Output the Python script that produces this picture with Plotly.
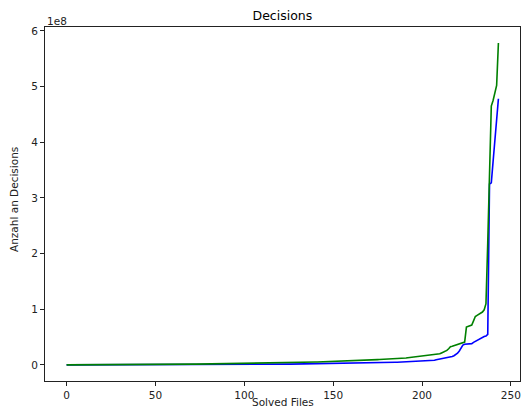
import plotly.graph_objects as go

# Decisions per solved file, in millions (sorted ascending), index = solved file number
green_millions = [
    0.00, 0.00, 0.01, 0.01, 0.02, 0.02, 0.03, 0.04, 0.05, 0.05,
    0.06, 0.07, 0.08, 0.09, 0.10, 0.11, 0.12, 0.13, 0.14, 0.15,
    0.16, 0.17, 0.19, 0.20, 0.21, 0.23, 0.24, 0.26, 0.27, 0.29,
    0.30, 0.31, 0.33, 0.34, 0.36, 0.37, 0.39, 0.41, 0.42, 0.44,
    0.46, 0.48, 0.50, 0.52, 0.54, 0.56, 0.58, 0.60, 0.62, 0.64,
    0.66, 0.69, 0.71, 0.74, 0.76, 0.79, 0.82, 0.85, 0.88, 0.91,
    0.94, 0.97, 1.00, 1.04, 1.07, 1.10, 1.13, 1.16, 1.20, 1.23,
    1.26, 1.30, 1.33, 1.37, 1.40, 1.44, 1.47, 1.51, 1.55, 1.58,
    1.62, 1.66, 1.70, 1.74, 1.78, 1.82, 1.86, 1.90, 1.95, 1.99,
    2.03, 2.08, 2.12, 2.17, 2.21, 2.26, 2.31, 2.35, 2.40, 2.45,
    2.50, 2.55, 2.60, 2.65, 2.71, 2.76, 2.81, 2.87, 2.92, 2.98,
    3.03, 3.09, 3.15, 3.21, 3.27, 3.33, 3.39, 3.45, 3.51, 3.58,
    3.64, 3.70, 3.77, 3.84, 3.90, 3.97, 4.04, 4.11, 4.18, 4.25,
    4.32, 4.40, 4.47, 4.55, 4.62, 4.70, 4.78, 4.86, 4.94, 5.02,
    5.10, 5.18, 5.27, 5.35, 5.44, 5.53, 5.62, 5.71, 5.80, 5.90,
    5.99, 6.09, 6.19, 6.29, 6.39, 6.49, 6.60, 6.71, 6.82, 6.93,
    7.04, 7.16, 7.28, 7.40, 7.52, 7.65, 7.78, 7.91, 8.05, 8.19,
    8.30, 8.40, 8.50, 8.70, 9.10, 9.50, 9.70, 9.80, 9.90, 10.0,
    10.1, 10.2, 10.3, 10.4, 10.5, 10.6, 10.7, 10.9, 11.2, 11.6,
    12.0, 12.4, 12.8, 13.2, 13.6, 14.0, 14.3, 14.6, 14.9, 15.2,
    15.5, 15.8, 16.1, 16.4, 16.8, 17.3, 17.8, 18.4, 19.0, 19.5,
    20.0, 21.5, 23.0, 24.5, 26.0, 29.0, 32.5, 33.5, 34.5, 35.5,
    36.5, 37.5, 38.5, 39.5, 41.0, 68.0, 69.0, 70.0, 71.5, 79.0,
    87.0, 89.0, 91.0, 93.0, 95.0, 99.0, 110.0, 220.0, 340.0, 465.0,
    475.0, 487.0, 502.0, 578.0,
]

blue_millions = [
    0.00, 0.00, 0.00, 0.00, 0.01, 0.01, 0.01, 0.01, 0.02, 0.02,
    0.02, 0.02, 0.03, 0.03, 0.03, 0.04, 0.04, 0.04, 0.05, 0.05,
    0.05, 0.06, 0.06, 0.07, 0.07, 0.07, 0.08, 0.08, 0.09, 0.09,
    0.10, 0.10, 0.11, 0.11, 0.12, 0.12, 0.13, 0.13, 0.14, 0.14,
    0.15, 0.16, 0.16, 0.17, 0.17, 0.18, 0.19, 0.19, 0.20, 0.21,
    0.21, 0.22, 0.23, 0.23, 0.24, 0.25, 0.26, 0.26, 0.27, 0.28,
    0.29, 0.30, 0.30, 0.31, 0.32, 0.33, 0.34, 0.35, 0.36, 0.37,
    0.38, 0.39, 0.40, 0.41, 0.42, 0.43, 0.44, 0.45, 0.46, 0.47,
    0.48, 0.50, 0.51, 0.52, 0.53, 0.55, 0.56, 0.57, 0.59, 0.60,
    0.62, 0.63, 0.65, 0.66, 0.68, 0.69, 0.71, 0.72, 0.74, 0.76,
    0.77, 0.79, 0.81, 0.83, 0.85, 0.87, 0.89, 0.91, 0.93, 0.95,
    0.97, 0.99, 1.01, 1.04, 1.06, 1.08, 1.11, 1.13, 1.16, 1.18,
    1.21, 1.24, 1.26, 1.29, 1.32, 1.35, 1.38, 1.41, 1.44, 1.47,
    1.50, 1.53, 1.57, 1.60, 1.64, 1.67, 1.71, 1.74, 1.78, 1.82,
    1.86, 1.90, 1.94, 1.98, 2.02, 2.06, 2.11, 2.15, 2.20, 2.24,
    2.29, 2.34, 2.39, 2.44, 2.49, 2.54, 2.60, 2.65, 2.71, 2.77,
    2.83, 2.89, 2.95, 3.01, 3.08, 3.14, 3.21, 3.28, 3.35, 3.42,
    3.50, 3.57, 3.65, 3.73, 3.81, 3.89, 3.98, 4.06, 4.15, 4.24,
    4.33, 4.42, 4.52, 4.61, 4.71, 4.81, 4.91, 5.02, 5.12, 5.23,
    5.34, 5.45, 5.57, 5.68, 5.80, 5.92, 6.05, 6.17, 6.30, 6.43,
    6.56, 6.70, 6.84, 6.98, 7.12, 7.30, 7.60, 8.50, 9.40, 10.0,
    10.5, 11.0, 11.5, 12.0, 12.6, 13.3, 14.0, 15.0, 16.5, 18.5,
    21.0, 25.0, 30.0, 35.5, 37.0, 37.3, 37.6, 37.9, 38.2, 40.5,
    42.5, 43.5, 45.5, 48.0, 50.0, 51.0, 52.0, 55.0, 325.0, 327.0,
    365.0, 405.0, 445.0, 478.0,
]

x_tick_vals = [0, 50, 100, 150, 200, 250]
y_tick_vals = [0, 1e8, 2e8, 3e8, 4e8, 5e8, 6e8]
y_tick_text = ["0", "1", "2", "3", "4", "5", "6"]

solved = list(range(len(green_millions)))
green = [v * 1e6 for v in green_millions]
blue = [v * 1e6 for v in blue_millions]

FONT = "DejaVu Sans"

fig = go.Figure()
fig.add_trace(go.Scatter(x=solved, y=blue, mode="lines",
                         line=dict(color="#0000ff", width=1.6), showlegend=False))
fig.add_trace(go.Scatter(x=solved, y=green, mode="lines",
                         line=dict(color="#008000", width=1.6), showlegend=False))

axis_common = dict(showline=True, linecolor="#222", linewidth=1, mirror=True,
                   showgrid=False, zeroline=False, ticks="outside", ticklen=4,
                   tickcolor="#222", tickwidth=1, automargin=False,
                   tickfont=dict(family=FONT, size=10.5, color="#222"))

n = len(green)
xmax = n - 1
fig.update_layout(
    width=521, height=410,
    margin=dict(l=45, r=1, t=27, b=29),
    paper_bgcolor="white", plot_bgcolor="white",
    title=dict(text="Decisions", x=0.542, xanchor="center", y=0.962, yanchor="middle",
               font=dict(family=FONT, size=12.5, color="#000")),
    xaxis=dict(range=[-0.05 * xmax, 1.05 * xmax], tickvals=x_tick_vals, **axis_common),
    yaxis=dict(range=[-0.05 * 5.78e8, 5.78e8 * 1.05], tickvals=y_tick_vals,
               ticktext=y_tick_text, **axis_common),
)
label_font = dict(family=FONT, size=10.5, color="#222")
fig.add_annotation(text="Solved Files", xref="paper", yref="paper", x=0.5, y=0,
                   xanchor="center", yanchor="bottom", yshift=-29, showarrow=False,
                   font=label_font)
fig.add_annotation(text="Anzahl an Decisions", xref="paper", yref="paper", x=0, y=0.5,
                   xanchor="center", yanchor="middle", xshift=-31, yshift=4,
                   textangle=-90, showarrow=False, font=label_font)
fig.add_annotation(text="1e8", xref="paper", yref="paper", x=0, y=1, xanchor="left",
                   yanchor="middle", yshift=6, xshift=0, showarrow=False,
                   font=label_font)

fig.write_html("out.html")
